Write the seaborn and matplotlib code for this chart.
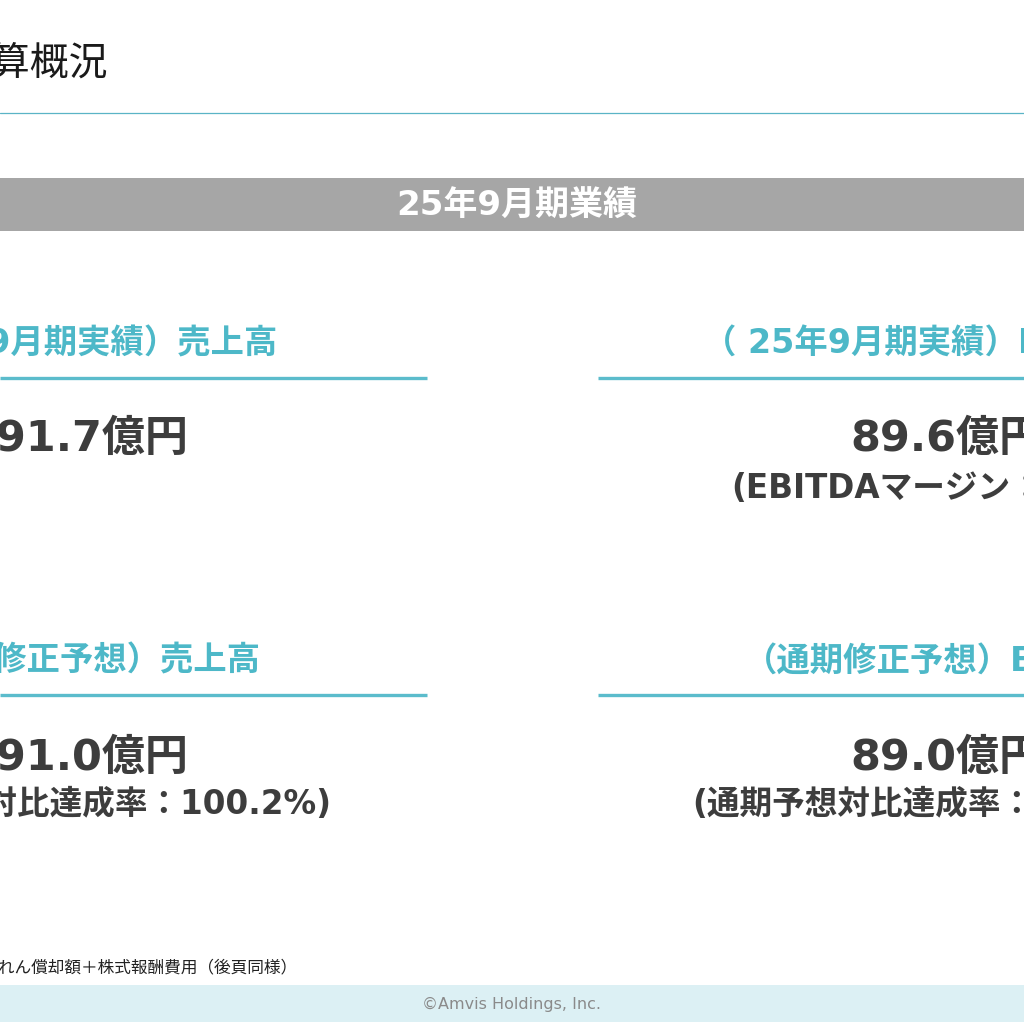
import matplotlib
matplotlib.use("Agg")
import matplotlib.pyplot as plt
import seaborn as sns

sns.set_theme(style="white")
plt.rcParams['font.family'] = ['Noto Sans CJK JP', 'DejaVu Sans']
LATIN_FIRST = ['DejaVu Sans', 'Noto Sans CJK JP']

# ---- content ----
title = "決算概況"
band_label = "25年9月期業績"
headings = ["（25年9月期実績）売上高", "（ 25年9月期実績）EBITDA",
            "（通期修正予想）売上高", "（通期修正予想）EBITDA"]
values = ["191.7億円", "89.6億円", "191.0億円", "89.0億円"]
subs = ["", "(EBITDAマージン：46.7%)",
        "(通期予想対比達成率：100.2%)", "(通期予想対比達成率：100.7%)"]
footnote = "※EBITDA＝営業利益＋減価償却費＋のれん償却額＋株式報酬費用（後頁同様）"
footer = "©Amvis Holdings, Inc."

TEAL = "#4db8c8"
DARK = "#3d3d3d"

fig = plt.figure(figsize=(10.24, 10.24), dpi=100)
ax = fig.add_axes([0, 0, 1, 1])
ax.set_xlim(0, 1024)
ax.set_ylim(1024, 0)
ax.axis("off")

# title
ax.text(108, 64, title, ha="right", va="center", fontsize=28, color="#1a1a1a", clip_on=True)
ax.plot([0, 1024], [112.5, 112.5], color="#5ab4c6", lw=0.9)

# grey band
ax.axhspan(178, 231, color="#a6a6a6", lw=0)
ax.text(517, 206, band_label, ha="center", va="center", fontsize=24.5, fontweight="bold",
        color="white", family=LATIN_FIRST)

rows = [(344, 378, 439, 488), (661, 695, 758, 804)]
for i in range(4):
    r, c = divmod(i, 2)
    hy, ly, vy, sy = rows[r]
    if c == 0:
        hx = 278 if r == 0 else 261
        ax.text(hx, hy, headings[i], ha="right", va="center", fontsize=24, fontweight="bold",
                color=TEAL, clip_on=True, family=LATIN_FIRST)
        ax.plot([0, 427], [ly, ly], color="#5bbccc", lw=2.4, solid_capstyle="butt")
        ax.text(188, vy, values[i], ha="right", va="center", fontsize=31, fontweight="bold",
                color=DARK, clip_on=True, family=LATIN_FIRST)
        if subs[i]:
            ax.text(331, sy, subs[i], ha="right", va="center", fontsize=23.5, fontweight="bold",
                    color=DARK, clip_on=True, family=LATIN_FIRST)
    else:
        hx = 703 if r == 0 else 744
        ax.text(hx, hy, headings[i], ha="left", va="center", fontsize=24, fontweight="bold",
                color=TEAL, clip_on=True, family=LATIN_FIRST)
        ax.plot([598, 1024], [ly, ly], color="#5bbccc", lw=2.4, solid_capstyle="butt")
        ax.text(850, vy, values[i], ha="left", va="center", fontsize=31, fontweight="bold",
                color=DARK, clip_on=True, family=LATIN_FIRST)
        sx = 731 if r == 0 else 692
        ax.text(sx, sy, subs[i], ha="left", va="center", fontsize=23.5, fontweight="bold",
                color=DARK, clip_on=True, family=LATIN_FIRST)

# footnote
ax.text(298, 968, footnote, ha="right", va="center", fontsize=12, color="#222222", clip_on=True)

# footer band
ax.axhspan(985, 1022, color="#dcf0f4", lw=0)
ax.text(512, 1004, footer, ha="center", va="center", fontsize=11.5, color="#8a8a8a",
        family=["Liberation Sans Narrow", "DejaVu Sans"])

fig.savefig("out.png", dpi=100)
